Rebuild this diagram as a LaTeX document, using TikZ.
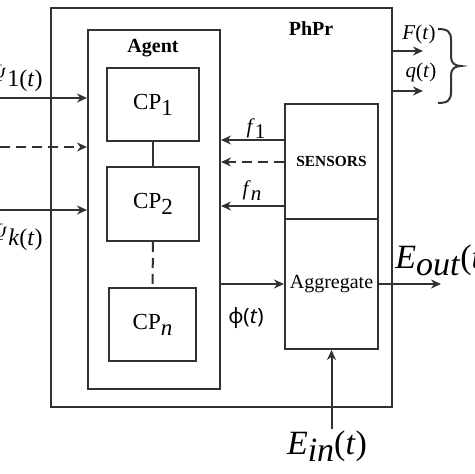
\documentclass[tikz,border=0pt]{standalone}
\usepackage{fontspec}
\setmainfont{Liberation Serif}
\newfontfamily\phifont{Noto Sans}
\usetikzlibrary{arrows.meta}
\definecolor{lc}{RGB}{50,50,50}
\newcommand{\lowr}[2][2.5pt]{\raisebox{-#1}{#2}}
\begin{document}
\begin{tikzpicture}[x=0.5pt,y=-0.5pt,
  box/.style={draw=lc, line width=1pt, inner sep=0pt, font=\fontsize{11.5}{13}\selectfont},
  lbl/.style={inner sep=0pt, font=\fontsize{10.5}{12}\selectfont},
  big/.style={inner sep=0pt, font=\fontsize{17}{20}\selectfont},
  arr/.style={draw=lc, line width=1pt, -{Stealth[length=5pt,width=4.5pt]}},
  conn/.style={draw=lc, line width=1pt},
  dsh/.style={dash pattern=on 5pt off 3pt}]
\useasboundingbox (0,0) rectangle (474,474);
\clip (0,0) rectangle (474,474);
% boxes
\node[box, minimum width=170.5pt, minimum height=199.5pt] (phpr) at (221.5,207.5) {};
\node[lbl, font=\fontsize{10}{12}\selectfont\bfseries] (phprlbl) at (311,29) {PhPr};
\node[box, minimum width=66pt, minimum height=179.5pt] (agent) at (154,209.5) {};
\node[lbl, font=\fontsize{10}{12}\selectfont\bfseries] (agentlbl) at (153,48) {Agent};
\node[box, minimum width=46pt, minimum height=36.5pt] (cp1) at (153,104.5) {\raisebox{-2pt}{CP\lowr[3pt]{1}}};
\node[box, minimum width=46pt, minimum height=37pt] (cp2) at (153,204) {\raisebox{-2pt}{CP\lowr[3pt]{2}}};
\node[box, minimum width=43.5pt, minimum height=36.5pt] (cpn) at (152.5,324.5) {\raisebox{-2pt}{CP\lowr[3pt]{\textit{n}}}};
\node[box, minimum width=46.5pt, minimum height=57.5pt, font=\fontsize{7.7}{9}\selectfont\bfseries] (sens) at (331.5,161.5) {SENSORS};
\node[box, minimum width=46.5pt, minimum height=65pt, font=\fontsize{10}{12}\selectfont] (agg) at (331.5,284) {Aggregate};
% internal links
\draw[conn] (cp1.south) -- (cp2.north);
\draw[conn, dsh] (cp2.south) -- (cpn.north);
% inputs to agent
\coordinate (in1) at (0,98);
\coordinate (in2) at (0,147);
\coordinate (in3) at (0,210);
\draw[arr] (in1) -- (in1 -| agent.west);
\draw[arr, dsh] (in2) -- (in2 -| agent.west);
\draw[arr] (in3) -- (in3 -| agent.west);
\node[lbl, anchor=east, font=\fontsize{12}{14}\selectfont] (psi1) at (43,78) {$\Psi$\lowr{1(\textit{t})}};
\node[lbl, anchor=east, font=\fontsize{12}{14}\selectfont] (psik) at (43,237) {$\Psi$\lowr{\textit{k}(\textit{t})}};
% sensors to agent
\coordinate (s1) at (285,140);
\coordinate (s2) at (285,162);
\coordinate (s3) at (285,206);
\draw[arr] (s1 -| sens.west) -- (s1 -| agent.east);
\draw[arr, dsh] (s2 -| sens.west) -- (s2 -| agent.east);
\draw[arr] (s3 -| sens.west) -- (s3 -| agent.east);
\node[lbl] (f1) at (256,129) {\textit{f}\lowr{1}};
\node[lbl] (fn) at (252,191) {\textit{f}\lowr{\textit{n}}};
% agent to aggregate
\draw[arr] (agent.east |- agg.west) -- (agg.west);
\node[lbl, font=\fontsize{10.5}{12}\selectfont\phifont] (phi) at (246,318) {φ(\textit{t})};
% E out
\coordinate (eout) at (441,284);
\draw[arr] (agg.east) -- (eout);
\node[big, anchor=west] (eoutlbl) at (395,260) {\textit{E}\lowr[3.5pt]{\textit{out}}(\textit{t})};
% E in
\coordinate (ein) at (331.5,429);
\draw[arr] (ein) -- (agg.south);
\node[big] (einlbl) at (327,446) {\textit{E}\lowr[3.5pt]{\textit{in}}(\textit{t})};
% outputs F, q
\coordinate (fo) at (423,51);
\coordinate (qo) at (423,91);
\draw[arr] (phpr.east |- fo) -- (fo);
\draw[arr] (phpr.east |- qo) -- (qo);
\node[lbl] (flbl) at (419,34) {\textit{F}(\textit{t})};
\node[lbl] (qlbl) at (421,72) {\textit{q}(\textit{t})};
% brace
\draw[conn] (438,29) .. controls (448,29) and (451,32) .. (451,40) -- (451,57)
  .. controls (451,63) and (455,66) .. (461,66)
  .. controls (455,66) and (451,69) .. (451,75) -- (451,92)
  .. controls (451,100) and (448,103) .. (438,103);
\end{tikzpicture}
\end{document}
